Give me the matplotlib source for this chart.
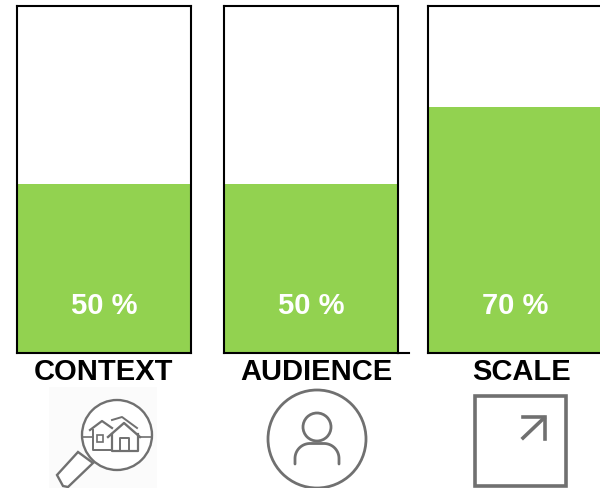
import matplotlib
matplotlib.use("Agg")
import matplotlib.pyplot as plt
from matplotlib.patches import Circle, Polygon, Rectangle
import numpy as np

categories = ["CONTEXT", "AUDIENCE", "SCALE"]
bar_heights = [48.7, 48.7, 70.9]
bar_labels = ["50 %", "50 %", "70 %"]

W, H = 600, 488
green = "#92D250"
grey = "#707070"
plt.rcParams['font.family'] = ['Liberation Sans', 'DejaVu Sans']

fig = plt.figure(figsize=(W / 100, H / 100), dpi=100, facecolor="white")

# overlay in pixel coords for the captions and icons
ov = fig.add_axes([0, 0, 1, 1])
ov.set_xlim(0, W)
ov.set_ylim(H, 0)
ov.axis("off")

lefts = [17, 224, 428]
label_x = [103.5, 316.5, 521.5]
for i in range(3):
    ax = fig.add_axes([lefts[i] / W, 1 - 353 / H, 174 / W, 347 / H])
    ax.bar([0], [bar_heights[i]], width=1, color=green, align="edge")
    ax.set_xlim(0, 1)
    ax.set_ylim(0, 100)
    ax.set_xticks([])
    ax.set_yticks([])
    for s in ax.spines.values():
        s.set_linewidth(1.5)
        s.set_color("black")
    ax.text(0.5, 13.6, bar_labels[i], color="white", fontsize=21, fontweight="bold",
            ha="center", va="center")
    ov.text(label_x[i], 372.5, categories[i], color="black", fontsize=21, fontweight="bold",
            ha="center", va="center")

# stray line next to the second panel
ov.plot([398, 409], [353, 353], color="black", lw=1.5)

# context icon
ov.add_patch(Rectangle((49, 387), 108, 101, color="#fbfbfb", lw=0))
ov.add_patch(Polygon([[78, 452], [93, 463], [68, 487], [63, 486], [57, 475]], fc="white", ec=grey, lw=1.7))
ov.add_patch(Circle((117, 435), 35, fc="white", ec=grey, lw=1.7))
ov.plot([82, 93], [437, 437], color=grey, lw=1.2)
ov.plot([139, 152], [437, 437], color=grey, lw=1.2)
ov.plot([90, 102, 112], [430, 421, 428], color=grey, lw=1.6)
ov.plot([93, 93, 112], [430, 450, 450], color=grey, lw=1.4)
ov.plot([112, 122, 137], [420, 417, 428], color=grey, lw=1.4)
ov.add_patch(Rectangle((97, 435), 6, 7, fc="white", ec=grey, lw=1.2))
ov.add_patch(Polygon([[112, 434], [124, 423], [138, 434], [138, 451], [112, 451]], fc="white", ec="none"))
ov.plot([108, 124, 140], [437, 423, 437], color=grey, lw=1.7)
ov.plot([112, 112, 138, 138], [434, 451, 451, 434], color=grey, lw=1.6)
ov.plot([120, 120, 129, 129], [451, 438, 438, 451], color=grey, lw=1.4)

# audience icon
ov.add_patch(Circle((317, 439), 49, fc="none", ec=grey, lw=2))
ov.add_patch(Circle((317, 427), 14, fc="none", ec=grey, lw=2))
t_left = np.linspace(np.pi, np.pi / 2, 20)
t_right = np.linspace(np.pi / 2, 0, 20)
sh_x = np.r_[295, 310 + 15 * np.cos(t_left), 324 + 15 * np.cos(t_right), 339]
sh_y = np.r_[464, 458.5 - 15 * np.sin(t_left), 458.5 - 15 * np.sin(t_right), 464]
ov.plot(sh_x, sh_y, color=grey, lw=2, solid_capstyle="round")

# scale icon
ov.add_patch(Rectangle((475, 396), 91, 90, fc="none", ec=grey, lw=2.6, clip_on=False))
ov.plot([523, 544], [438, 418], color=grey, lw=2.6)
ov.plot([523, 544.5, 544.5], [417, 417, 439], color=grey, lw=2.6, solid_joinstyle="miter")

fig.savefig("out.png", dpi=100)
